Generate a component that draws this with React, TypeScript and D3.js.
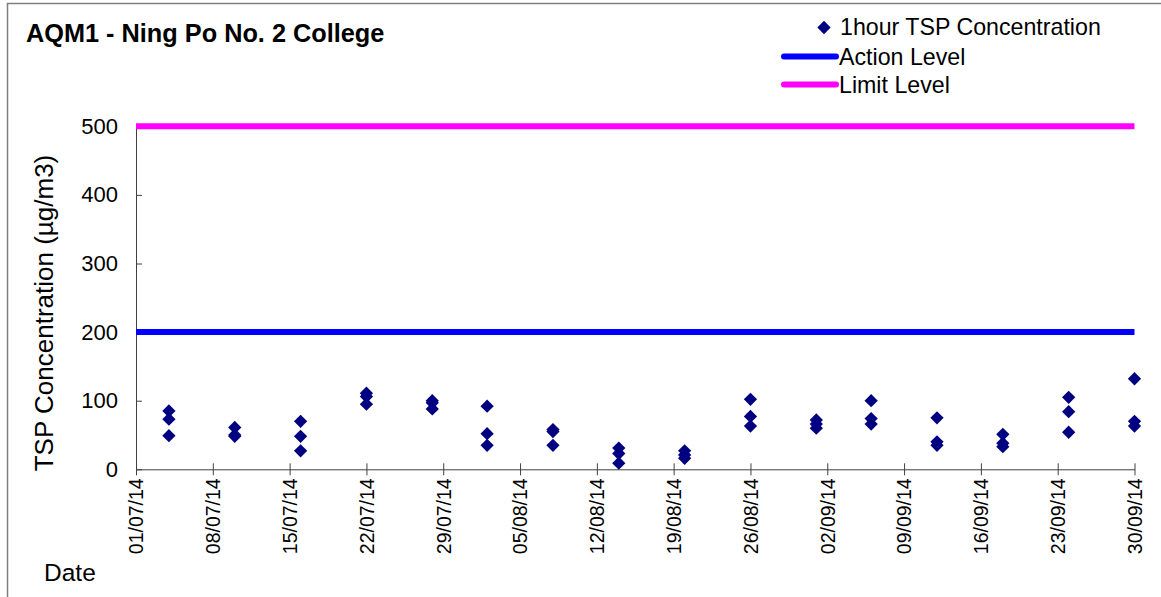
import { useEffect, useRef } from 'react';
import * as d3 from 'd3';

// 1-hour TSP readings, three per monitoring day
const sampleDates = [
  '2014-07-04', '2014-07-10', '2014-07-16', '2014-07-22', '2014-07-28', '2014-08-02',
  '2014-08-08', '2014-08-14', '2014-08-20', '2014-08-26', '2014-09-01', '2014-09-06',
  '2014-09-12', '2014-09-18', '2014-09-24', '2014-09-30',
];
const reading1 = [85, 61, 70, 111, 100, 92, 58, 31, 27, 102, 72, 100, 75, 51, 105, 132];
const reading2 = [73, 50, 48, 106, 97, 52, 55, 23, 21, 77, 66, 74, 40, 38, 84, 70];
const reading3 = [49, 48, 27, 95, 88, 35, 35, 9, 16, 63, 60, 66, 35, 33, 54, 63];

const actionLevel = 200;
const limitLevel = 500;

const tickDates = [
  '2014-07-01', '2014-07-08', '2014-07-15', '2014-07-22', '2014-07-29', '2014-08-05',
  '2014-08-12', '2014-08-19', '2014-08-26', '2014-09-02', '2014-09-09', '2014-09-16',
  '2014-09-23', '2014-09-30',
];
const yTicks = [0, 100, 200, 300, 400, 500];

const WIDTH = 1161;
const HEIGHT = 597;
const PLOT = { left: 136, right: 1134.5, top: 126.3, bottom: 469.3 };
const FONT = '"Liberation Sans", Arial, sans-serif';

const parse = d3.utcParse('%Y-%m-%d');

export default function App() {
  const svgRef = useRef<SVGSVGElement>(null);

  useEffect(() => {
    if (!svgRef.current) return;
    const svg = d3.select(svgRef.current);
    svg.selectAll('*').remove();

    const x = d3
      .scaleUtc()
      .domain([parse(tickDates[0])!, parse(tickDates[tickDates.length - 1])!])
      .range([PLOT.left, PLOT.right]);
    const y = d3.scaleLinear().domain([0, 500]).range([PLOT.bottom, PLOT.top]);

    // moldura
    svg
      .append('path')
      .attr('d', `M7.5,${HEIGHT} L7.5,3.5 L${WIDTH},3.5`)
      .attr('fill', 'none')
      .attr('stroke', '#7f7f7f')
      .attr('stroke-width', 1.5);

    // titulo
    svg
      .append('text')
      .attr('x', 26)
      .attr('y', 42)
      .style('font-family', FONT)
      .style('font-size', '25.3px')
      .style('font-weight', 'bold')
      .text('AQM1 - Ning Po No. 2 College');

    // eixo Y
    const yAxis = svg
      .append('g')
      .attr('transform', `translate(${PLOT.left},0)`)
      .call(d3.axisLeft(y).tickValues(yTicks).tickSizeInner(-6).tickSizeOuter(0).tickPadding(18));
    yAxis.select('.domain').attr('stroke', '#404040');
    yAxis.selectAll('line').attr('stroke', '#404040');
    yAxis
      .selectAll('text')
      .style('font-family', FONT)
      .style('font-size', '22px')
      .style('fill', '#000');

    // eixo X
    const xAxis = svg
      .append('g')
      .attr('transform', `translate(0,${PLOT.bottom})`)
      .call(
        d3
          .axisBottom(x)
          .tickValues(tickDates.map(d => parse(d)!))
          .tickSizeOuter(0)
          .tickFormat(d => d3.utcFormat('%d/%m/%y')(d as Date))
      );
    xAxis.select('.domain').attr('stroke', '#404040');
    xAxis.selectAll('line').attr('stroke', '#404040').attr('y1', -6).attr('y2', 6);
    xAxis
      .selectAll('text')
      .attr('transform', 'rotate(-90)')
      .attr('x', -9)
      .attr('y', 0)
      .attr('dy', '0.35em')
      .style('text-anchor', 'end')
      .style('font-family', FONT)
      .style('font-size', '19.5px')
      .style('fill', '#000');

    // linhas de nivel
    const levels = [
      { value: actionLevel, color: '#0000ff' },
      { value: limitLevel, color: '#ff00ff' },
    ];
    svg
      .selectAll('.level')
      .data(levels)
      .join('line')
      .attr('class', 'level')
      .attr('x1', PLOT.left)
      .attr('x2', PLOT.right)
      .attr('y1', d => y(d.value))
      .attr('y2', d => y(d.value))
      .attr('stroke', d => d.color)
      .attr('stroke-width', 6);

    // pontos
    const points = sampleDates.flatMap((d, i) => [
      { date: parse(d)!, value: reading1[i] },
      { date: parse(d)!, value: reading2[i] },
      { date: parse(d)!, value: reading3[i] },
    ]);
    const diamond = d3.symbol(d3.symbolSquare, 88)()!;
    svg
      .selectAll('.pt')
      .data(points)
      .join('path')
      .attr('class', 'pt')
      .attr('d', diamond)
      .attr('transform', d => `translate(${x(d.date)},${y(d.value)}) rotate(45)`)
      .attr('fill', '#000080');

    // rotulos dos eixos
    svg
      .append('text')
      .attr('transform', 'rotate(-90)')
      .attr('x', -313)
      .attr('y', 53)
      .attr('text-anchor', 'middle')
      .style('font-family', FONT)
      .style('font-size', '26px')
      .text('TSP Concentration (µg/m3)');

    svg
      .append('text')
      .attr('x', 44)
      .attr('y', 581)
      .style('font-family', FONT)
      .style('font-size', '24.5px')
      .text('Date');

    // legenda
    const legend = svg.append('g').style('font-family', FONT).style('font-size', '23.2px');
    legend
      .append('path')
      .attr('d', diamond)
      .attr('transform', 'translate(824,27.5) rotate(45)')
      .attr('fill', '#000080');
    legend.append('text').attr('x', 840).attr('y', 35).text('1hour TSP Concentration');
    levels.forEach((lv, i) => {
      const ly = 56.5 + i * 28;
      legend
        .append('line')
        .attr('x1', 784)
        .attr('x2', 836)
        .attr('y1', ly)
        .attr('y2', ly)
        .attr('stroke', lv.color)
        .attr('stroke-width', 6)
        .attr('stroke-linecap', 'round');
      legend
        .append('text')
        .attr('x', 839)
        .attr('y', ly + 8)
        .text(i === 0 ? 'Action Level' : 'Limit Level');
    });
  }, []);

  return (
    <svg
      ref={svgRef}
      width={WIDTH}
      height={HEIGHT}
      style={{ position: 'absolute', left: 0, top: 0, background: '#fff' }}
    />
  );
}
